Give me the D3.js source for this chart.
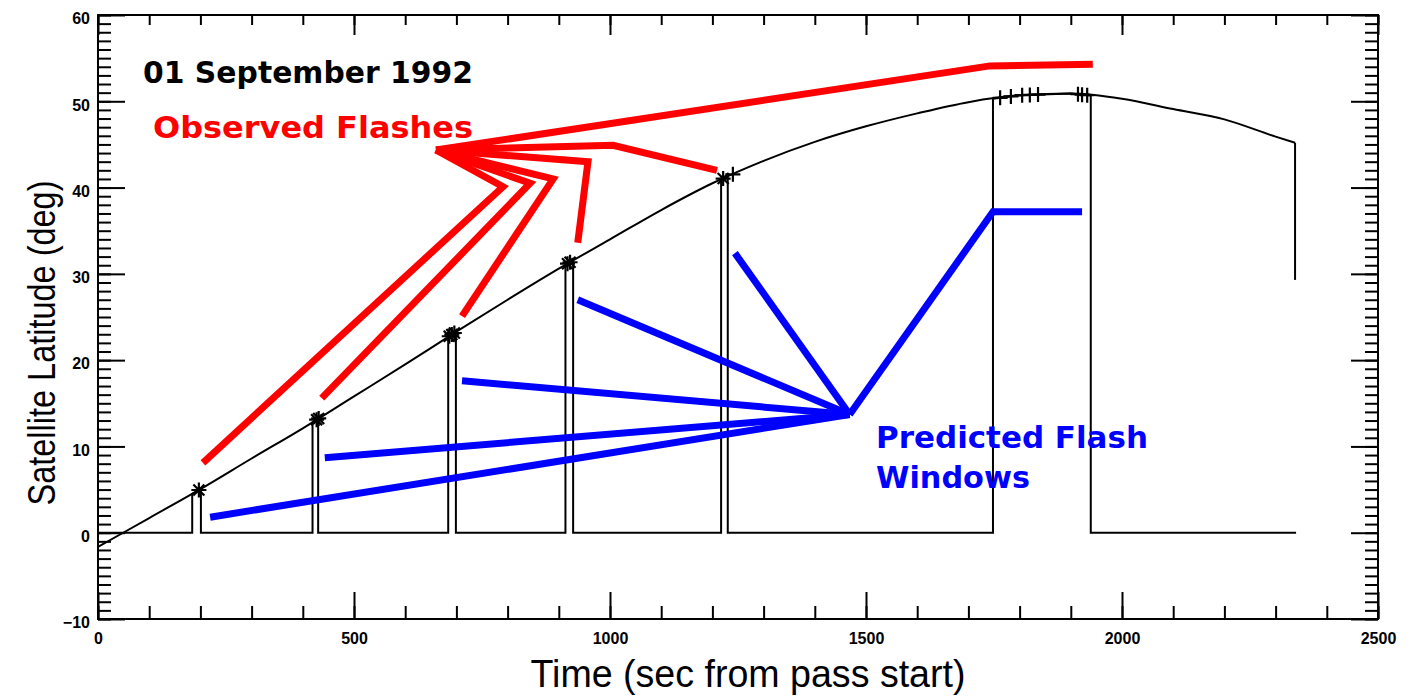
<!DOCTYPE html>
<html>
<head>
<meta charset="utf-8">
<script src="https://cdn.jsdelivr.net/npm/d3@7"></script>
<style>
  body { margin: 0; background: #fff; }
  svg { display: block; }
</style>
</head>
<body>
<svg id="chart" width="1415" height="700"></svg>
<script>
// Satellite ground-track latitude over the pass
const timeSec     = [0, 100, 200, 300, 400, 500, 600, 700, 800, 900, 1000, 1100, 1200, 1300, 1400, 1500, 1600, 1700, 1800, 1900, 2000, 2100, 2200, 2300, 2338];
const latitudeDeg = [-1.65, 1.7, 5.05, 8.6, 12.1, 15.8, 19.5, 23.3, 27.0, 30.6, 34.0, 37.4, 40.5, 43.1, 45.3, 47.1, 48.6, 49.9, 50.7, 50.9, 50.3, 49.1, 47.9, 45.9, 45.2];
// Final drop of the track at the end of the pass
const trackEndTime = 2338;
const trackEndLat  = [45.2, 29.3];
const passEnd = 2340;

// Predicted flash windows (start / end, sec)
const windowStart = [184, 419, 684, 913, 1217, 1748];
const windowEnd   = [201, 430, 699, 928, 1230, 1939];

// Observed flash times (asterisks and plus marks)
const flashStarTimes = [197, 427, 431, 686, 691, 696, 917, 922, 1221];
const flashPlusTimes = [1240, 1762, 1783, 1805, 1820, 1836, 1914, 1922, 1932];

// Annotation pointers: [time, latitude] vertices
const observedPointers = [
  [[205, 8.1],  [791, 40.1],  [660, 44.35]],
  [[437, 15.6], [844, 40.5],  [660, 44.35]],
  [[711, 25.1], [889, 41.0],  [660, 44.35]],
  [[937, 33.6], [957, 43.0],  [660, 44.35]],
  [[1209, 42.0], [1006, 44.9], [660, 44.35]],
  [[660, 44.35], [1742, 54.1], [1943, 54.3]]
];
const predictedPointers = [
  [[219, 1.8],  [1468, 13.7]],
  [[443, 8.7],  [1468, 13.7]],
  [[711, 17.6], [1468, 13.7]],
  [[937, 27.0], [1468, 13.7]],
  [[1244, 32.4], [1468, 13.7]],
  [[1468, 13.7], [1748, 37.2], [1922, 37.2]]
];

// Axis ticks
const xMajorTicks = [0, 500, 1000, 1500, 2000, 2500];
const xMinorTicks = d3.range(0, 2501, 100);
const yMajorTicks = [-10, 0, 10, 20, 30, 40, 50, 60];
const yMinorTicks = d3.range(-10, 61, 1);

const svg = d3.select("#chart");
const L = 98, R = 1378, T = 15, B = 619;
const x = d3.scaleLinear().domain([0, 2500]).range([L, R]);
const y = d3.scaleLinear().domain([-10, 60]).range([B, T]);

const tickFont = "'Liberation Sans', Arial, sans-serif";

// Axes with inward ticks on all four sides
function styleAxis(g) {
  g.select(".domain").remove();
  g.selectAll(".tick line").attr("stroke", "#000").attr("stroke-width", 2);
  g.selectAll("text").attr("font-family", tickFont).attr("font-size", 16)
    .attr("font-weight", "bold").attr("fill", "#000");
}
svg.append("g").attr("transform", `translate(0,${B})`)
  .call(d3.axisBottom(x).tickValues(xMinorTicks).tickSize(-13).tickFormat("")).call(styleAxis);
svg.append("g").attr("transform", `translate(0,${B})`)
  .call(d3.axisBottom(x).tickValues(xMajorTicks).tickSize(-27).tickPadding(14).tickFormat(d3.format("d"))).call(styleAxis);
svg.append("g").attr("transform", `translate(0,${T})`)
  .call(d3.axisTop(x).tickValues(xMinorTicks).tickSize(-10).tickFormat("")).call(styleAxis);
svg.append("g").attr("transform", `translate(0,${T})`)
  .call(d3.axisTop(x).tickValues(xMajorTicks).tickSize(-20).tickFormat("")).call(styleAxis);
svg.append("g").attr("transform", `translate(${L},0)`)
  .call(d3.axisLeft(y).tickValues(yMinorTicks).tickSize(-13).tickFormat("")).call(styleAxis);
svg.append("g").attr("transform", `translate(${L},0)`)
  .call(d3.axisLeft(y).tickValues(yMajorTicks).tickSize(-27).tickPadding(8).tickFormat(d3.format("d"))).call(styleAxis)
  .selectAll("text").attr("dy", "0.55em");
svg.append("g").attr("transform", `translate(${R},0)`)
  .call(d3.axisRight(y).tickValues(yMinorTicks).tickSize(-13).tickFormat("")).call(styleAxis);
svg.append("g").attr("transform", `translate(${R},0)`)
  .call(d3.axisRight(y).tickValues(yMajorTicks).tickSize(-27).tickFormat("")).call(styleAxis);

svg.append("rect").attr("x", L).attr("y", T).attr("width", R - L).attr("height", B - T)
  .attr("fill", "none").attr("stroke", "#000").attr("stroke-width", 2);

// Axis titles
svg.append("text").attr("x", 748).attr("y", 687)
  .attr("text-anchor", "middle").attr("font-family", tickFont).attr("font-size", 38)
  .attr("textLength", 435).attr("lengthAdjust", "spacingAndGlyphs")
  .text("Time (sec from pass start)");
svg.append("text").attr("transform", "translate(55,343) rotate(-90)")
  .attr("text-anchor", "middle").attr("font-family", tickFont).attr("font-size", 38)
  .attr("textLength", 325).attr("lengthAdjust", "spacingAndGlyphs")
  .text("Satellite Latitude (deg)");

// Latitude track
const trackPts = timeSec.map((t, i) => [t, latitudeDeg[i]]);
const latAt = d3.scaleLinear().domain(timeSec).range(latitudeDeg);
const line = d3.line().x(d => x(d[0])).y(d => y(d[1]));

svg.append("path")
  .attr("d", line.curve(d3.curveMonotoneX)(trackPts))
  .attr("fill", "none").attr("stroke", "#000").attr("stroke-width", 2);
line.curve(d3.curveLinear);
svg.append("path")
  .attr("d", line(trackEndLat.map(v => [trackEndTime, v])))
  .attr("fill", "none").attr("stroke", "#000").attr("stroke-width", 2);

// Window trace: zero outside the windows, track latitude inside
const winPts = [[0, 0]];
windowStart.forEach((s, i) => {
  const e = windowEnd[i];
  winPts.push([s, 0], [s, latAt(s)]);
  timeSec.filter(t => t > s && t < e).forEach(t => winPts.push([t, latAt(t)]));
  winPts.push([e, latAt(e)], [e, 0]);
});
winPts.push([passEnd, 0]);
svg.append("path").attr("d", line(winPts))
  .attr("fill", "none").attr("stroke", "#000").attr("stroke-width", 2);

// Flash markers
const markG = svg.append("g").attr("stroke", "#000").attr("stroke-width", 2.2).attr("fill", "none");
flashStarTimes.forEach(t => {
  const cx = x(t), cy = y(latAt(t)), a = 7.5, b = 5.5;
  markG.append("path").attr("d",
    `M${cx - a},${cy}H${cx + a}M${cx},${cy - a}V${cy + a}` +
    `M${cx - b},${cy - b}L${cx + b},${cy + b}M${cx - b},${cy + b}L${cx + b},${cy - b}`);
});
flashPlusTimes.forEach(t => {
  const cx = x(t), cy = y(latAt(t)), a = 7.5;
  markG.append("path").attr("d", `M${cx - a},${cy}H${cx + a}M${cx},${cy - a}V${cy + a}`);
});

// Annotation pointers
observedPointers.forEach(p => svg.append("path").attr("d", line(p))
  .attr("fill", "none").attr("stroke", "#ff0000").attr("stroke-width", 7)
  .attr("stroke-linejoin", "miter"));
predictedPointers.forEach(p => svg.append("path").attr("d", line(p))
  .attr("fill", "none").attr("stroke", "#0000ff").attr("stroke-width", 7)
  .attr("stroke-linejoin", "miter"));

// Labels
const labelFont = "'DejaVu Sans', Verdana, sans-serif";
function label(txt, lx, ly, w, color) {
  svg.append("text").attr("x", lx).attr("y", ly)
    .attr("font-family", labelFont).attr("font-weight", "bold").attr("font-size", 30)
    .attr("fill", color).attr("textLength", w).attr("lengthAdjust", "spacingAndGlyphs")
    .text(txt);
}
label("01 September 1992", 143, 83, 330, "#000");
label("Observed Flashes", 153, 138, 320, "#ff0000");
label("Predicted Flash", 876, 448, 272, "#0000ff");
label("Windows", 876, 488, 154, "#0000ff");
</script>
</body>
</html>
